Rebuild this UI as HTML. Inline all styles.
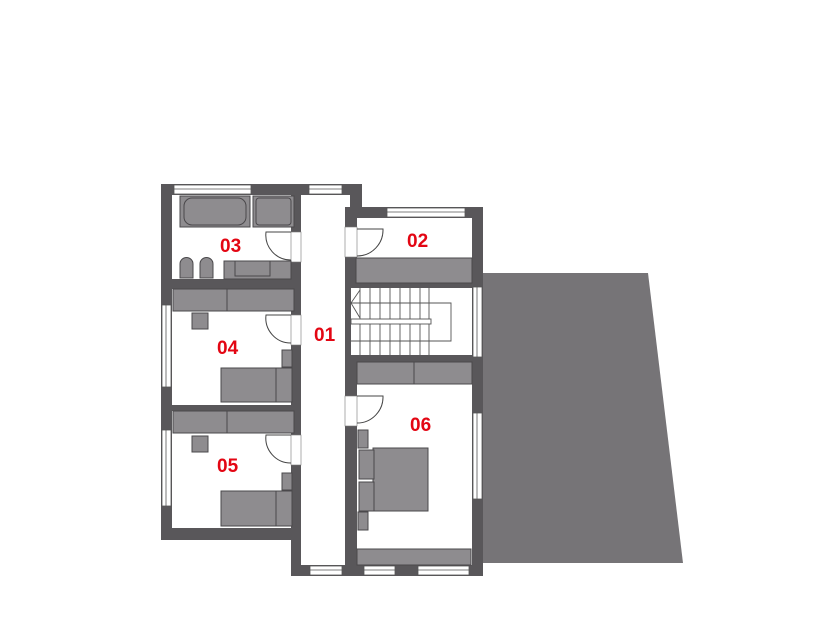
<!DOCTYPE html>
<html><head><style>
body{margin:0;background:#fff;width:820px;height:620px;overflow:hidden}
svg{display:block}
text{font-family:"Liberation Sans",Arial,sans-serif;font-weight:bold;font-size:19px;fill:#e30613}
</style></head><body>
<svg width="820" height="620" viewBox="0 0 820 620">
<polygon points="483,273 648,273 683,563 483,563" fill="#767477"/>
<g fill="#59575a">
<rect x="161" y="184" width="201" height="11"/>
<rect x="350" y="207" width="133" height="11"/>
<rect x="350" y="184" width="12" height="34"/>
<rect x="161" y="184" width="11" height="356"/>
<rect x="161" y="528" width="140" height="12"/>
<rect x="291" y="528" width="10" height="48"/>
<rect x="291" y="565" width="192" height="11"/>
<rect x="472" y="207" width="11" height="369"/>
<rect x="291" y="195" width="10" height="345"/>
<rect x="345" y="207" width="12" height="369"/>
<rect x="172" y="279" width="119" height="10"/>
<rect x="172" y="405" width="119" height="6"/>
<rect x="357" y="283" width="115" height="5"/>
<rect x="357" y="355" width="115" height="7"/>
</g>
<g fill="#fff">
<rect x="172" y="195" width="119" height="84"/>
<rect x="301" y="195" width="44" height="370"/>
<rect x="357" y="218" width="115" height="65"/>
<rect x="351" y="288" width="121" height="67"/>
<rect x="357" y="362" width="115" height="203"/>
<rect x="172" y="289" width="119" height="116"/>
<rect x="172" y="411" width="119" height="117"/>
</g>
<g fill="#fff" stroke="#555" stroke-width="0.8">
<rect x="174" y="185" width="77" height="9"/><line x1="174" y1="189" x2="251" y2="189"/>
<rect x="309" y="185" width="33" height="9"/><line x1="309" y1="189" x2="342" y2="189"/>
<rect x="387" y="208" width="78" height="9"/><line x1="387" y1="212" x2="465" y2="212"/>
<rect x="162" y="305" width="9" height="82"/><line x1="166" y1="305" x2="166" y2="387"/>
<rect x="162" y="430" width="9" height="76"/><line x1="166" y1="430" x2="166" y2="506"/>
<rect x="473" y="287" width="9" height="70"/><line x1="477" y1="287" x2="477" y2="357"/>
<rect x="473" y="413" width="9" height="86"/><line x1="477" y1="413" x2="477" y2="499"/>
<rect x="310" y="566" width="32" height="9"/><line x1="310" y1="570" x2="342" y2="570"/>
<rect x="364" y="566" width="31" height="9"/><line x1="364" y1="570" x2="395" y2="570"/>
<rect x="418" y="566" width="51" height="9"/><line x1="418" y1="570" x2="469" y2="570"/>
</g>
<g fill="#fff" stroke="#777" stroke-width="0.6">
<rect x="291" y="232" width="10" height="30"/>
<rect x="291" y="315" width="10" height="30"/>
<rect x="291" y="435" width="10" height="30"/>
<rect x="345" y="227" width="12" height="30"/>
<rect x="345" y="396" width="12" height="30"/>
</g>
<g fill="none" stroke="#444" stroke-width="1">
<path d="M291,232 L266,232 A25,25 0 0 0 291,260"/>
<path d="M291,315 L266,315 A25,25 0 0 0 291,343"/>
<path d="M291,435 L266,435 A25,25 0 0 0 291,463"/>
<path d="M357,229 L383,229 A26,26 0 0 1 357,256"/>
<path d="M357,396 L383,396 A26,26 0 0 1 357,423"/>
</g>
<g fill="#8e8c8f" stroke="#4a484b" stroke-width="1">
<rect x="180" y="196" width="70" height="31"/>
<rect x="184" y="198" width="62" height="27" rx="8"/>
<rect x="253" y="196" width="41" height="31"/>
<rect x="256" y="198" width="35" height="27" rx="3"/>
<path d="M180,278 L180,264 A6,6 0 0 1 193,264 L193,278 Z"/>
<path d="M200,278 L200,264 A6,6 0 0 1 213,264 L213,278 Z"/>
<rect x="224" y="261" width="67" height="18"/>
<rect x="235" y="261" width="35" height="15"/>
<rect x="173" y="289" width="121" height="22"/><line x1="227" y1="289" x2="227" y2="311"/>
<rect x="192" y="313" width="16" height="16"/>
<rect x="221" y="368" width="70" height="34"/>
<rect x="276" y="368" width="16" height="34"/>
<rect x="282" y="350" width="10" height="17"/>
<rect x="173" y="411" width="121" height="22"/><line x1="227" y1="411" x2="227" y2="433"/>
<rect x="192" y="436" width="16" height="16"/>
<rect x="221" y="491" width="70" height="35"/>
<rect x="276" y="491" width="16" height="35"/>
<rect x="282" y="473" width="10" height="17"/>
<rect x="356" y="258" width="116" height="25"/>
<rect x="357" y="362" width="115" height="22"/><line x1="414" y1="362" x2="414" y2="384"/>
<rect x="373" y="448" width="55" height="63"/>
<rect x="359" y="450" width="15" height="29"/>
<rect x="359" y="482" width="15" height="29"/>
<rect x="358" y="430" width="10" height="18"/>
<rect x="358" y="512" width="10" height="18"/>
<rect x="357" y="549" width="114" height="16"/>
</g>
<g stroke="#555" stroke-width="0.9" fill="none">
<line x1="360" y1="288" x2="360" y2="355"/><line x1="370" y1="288" x2="370" y2="355"/>
<line x1="380" y1="288" x2="380" y2="355"/><line x1="390" y1="288" x2="390" y2="355"/>
<line x1="400" y1="288" x2="400" y2="355"/><line x1="410" y1="288" x2="410" y2="355"/>
<line x1="420" y1="288" x2="420" y2="355"/><line x1="429" y1="288" x2="429" y2="355"/>
<polyline points="351,303 451,303 451,341 351,341"/>
<polyline points="360,290 351,303 360,318"/>
<rect x="351" y="319" width="80" height="5" fill="#fff"/>
</g>
<text x="220" y="252">03</text>
<text x="407" y="247">02</text>
<text x="314" y="341">01</text>
<text x="217" y="354">04</text>
<text x="217" y="472">05</text>
<text x="410" y="431">06</text>
</svg>
</body></html>
